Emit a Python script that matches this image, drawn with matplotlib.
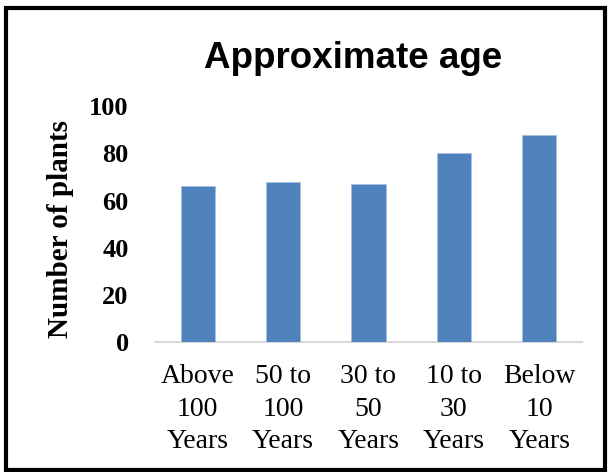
import matplotlib.pyplot as plt
from matplotlib.patches import Rectangle

# Plant counts by age group
categories = ['Above\n100\nYears', '50 to\n100\nYears', '30 to\n50\nYears', '10 to\n30\nYears', 'Below\n10\nYears']
counts = [66, 68, 67, 80, 88]
y_ticks = [0, 20, 40, 60, 80, 100]

fig = plt.figure(figsize=(6.08, 4.72), dpi=100)
ax = fig.add_axes([0.255, 0.275, 0.702, 0.5])

ax.bar(range(len(counts)), counts, width=0.4, color='#4F81BD', edgecolor='#A7C0DE', linewidth=0.6, zorder=3)

ax.set_xlim(-0.5, len(counts) - 0.5)
ax.set_ylim(0, 100)
ax.set_yticks(y_ticks)
ax.set_yticklabels([str(t) for t in y_ticks], family='Liberation Serif', fontweight='bold', fontsize=19)
ax.set_xticks(range(len(counts)))
ax.set_xticklabels(categories, family='Liberation Serif', fontsize=20, linespacing=1.38)
ax.tick_params(length=0)
ax.tick_params(axis='y', pad=19)
ax.tick_params(axis='x', pad=16)

for side in ['top', 'right', 'left']:
    ax.spines[side].set_visible(False)
ax.spines['bottom'].set_color('#D9D9D9')
ax.spines['bottom'].set_linewidth(1.5)

ax.set_ylabel('Number of plants', family='Liberation Serif', fontweight='bold', fontsize=21)
ax.yaxis.set_label_coords(-0.19, 0.479)

fig.text(0.58, 0.877, 'Approximate age', family='Liberation Sans', fontweight='bold',
         fontsize=26.5, ha='center', va='center')

# Outer frame
fig.patches.append(Rectangle((0.01, 0.005), 0.985, 0.977, transform=fig.transFigure,
                             fill=False, edgecolor='black', linewidth=3))

fig.savefig('out.png', dpi=100)
